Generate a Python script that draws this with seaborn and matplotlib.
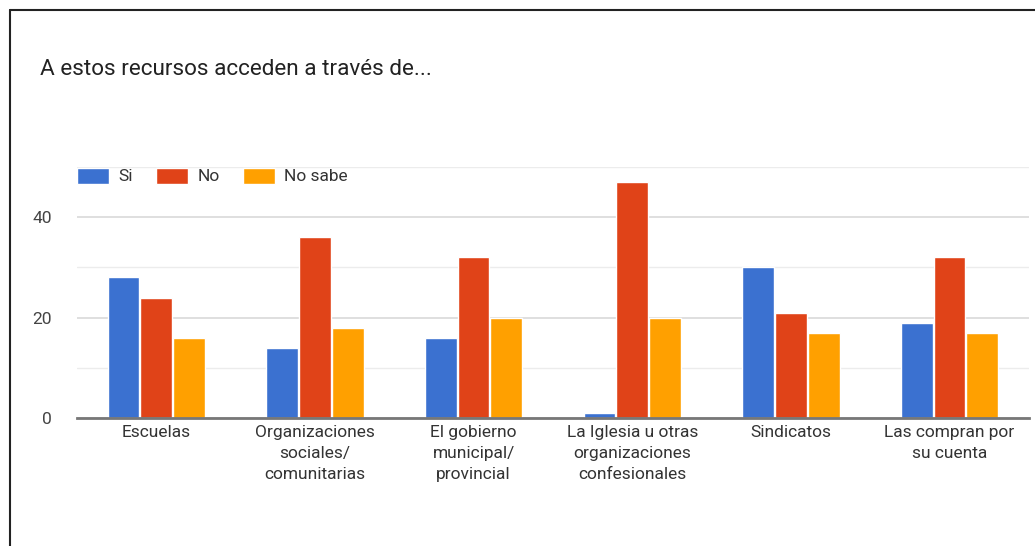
import pandas as pd
import matplotlib.pyplot as plt
from matplotlib.lines import Line2D
import seaborn as sns

# datos
categorias = ['Escuelas', 'Organizaciones\nsociales/\ncomunitarias', 'El gobierno\nmunicipal/\nprovincial',
              'La Iglesia u otras\norganizaciones\nconfesionales', 'Sindicatos', 'Las compran por\nsu cuenta']
si = [28, 14, 16, 1, 30, 19]
no = [24, 36, 32, 47, 21, 32]
no_sabe = [16, 18, 20, 20, 17, 17]
series = ['Si', 'No', 'No sabe']
colores = ['#3b71d0', '#e04318', '#ffa000']

df = pd.DataFrame({
    'categoria': categorias * 3,
    'valor': si + no + no_sabe,
    'respuesta': [s for s in series for _ in categorias],
})

sns.set_style('white')
plt.rcParams['font.family'] = ['Roboto', 'DejaVu Sans']

fig = plt.figure(figsize=(10.35, 5.46), dpi=100)
ax = fig.add_axes([0.0744, 0.2344, 0.9196, 0.4597])

sns.barplot(data=df, x='categoria', y='valor', hue='respuesta', palette=colores,
            width=0.62, gap=0.03, saturation=1, ax=ax, legend=True)

ax.set_ylim(0, 50)
ax.set_xlim(-0.5, 5.5)
ax.set_yticks([0, 20, 40])
ax.set_yticks([10, 30, 50], minor=True)
ax.grid(axis='y', which='major', color='#dcdcdc', linewidth=1.3, zorder=0)
ax.grid(axis='y', which='minor', color='#ececec', linewidth=1.0, zorder=0)
ax.set_axisbelow(True)
for s in ['top', 'right', 'left']:
    ax.spines[s].set_visible(False)
ax.spines['bottom'].set_color('#777777')
ax.spines['bottom'].set_linewidth(2)
ax.tick_params(axis='both', length=0, labelsize=12.5, colors='#333333')
ax.tick_params(axis='y', pad=18, colors='#444444')
ax.tick_params(axis='x', pad=5)
for lbl in ax.get_xticklabels():
    lbl.set_linespacing(1.5)
ax.set_xlabel('')
ax.set_ylabel('')

leg = ax.legend(loc='upper left', bbox_to_anchor=(0.0, 0.998), ncol=3, frameon=False,
                fontsize=12.5, handlelength=1.85, handleheight=1.05, columnspacing=1.35,
                handletextpad=0.52, borderaxespad=0, borderpad=0)
for t in leg.get_texts():
    t.set_color('#333333')

fig.text(0.0386, 0.872, 'A estos recursos acceden a través de...', fontsize=16.2,
         color='#222222', va='center', ha='left')

# marco
fig.add_artist(Line2D([0.0097, 1.0], [0.982, 0.982], color='#222222', linewidth=1.5))
fig.add_artist(Line2D([0.0097, 0.0097], [0.0, 0.982], color='#222222', linewidth=1.5))

fig.savefig('out.png', dpi=100, facecolor='white')
